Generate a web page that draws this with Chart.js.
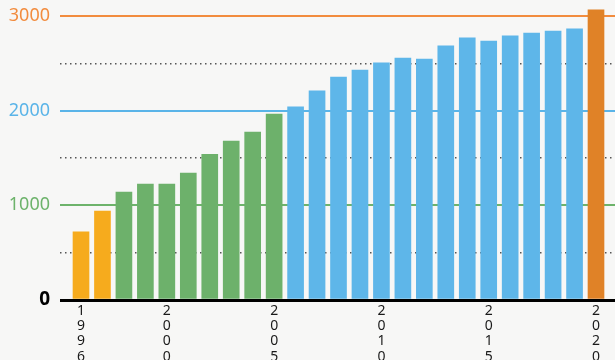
<!DOCTYPE html>
<html>
<head>
<meta charset="utf-8">
<script src="https://cdn.jsdelivr.net/npm/chart.js@4"></script>
<style>
  html, body { margin: 0; padding: 0; background: #f7f7f6; }
  #wrap { width: 615px; height: 360px; }
</style>
</head>
<body>
<div id="wrap"><canvas id="chart" width="615" height="360"></canvas></div>
<script>
// years and values
const years = [1996, 1997, 1998, 1999, 2000, 2001, 2002, 2003, 2004, 2005, 2006, 2007, 2008,
               2009, 2010, 2011, 2012, 2013, 2014, 2015, 2016, 2017, 2018, 2019, 2020];
const values = [720, 940, 1140, 1225, 1225, 1340, 1540, 1680, 1775, 1965, 2040, 2210, 2355,
                2430, 2505, 2555, 2545, 2685, 2770, 2735, 2790, 2820, 2840, 2865, 3065];
const xTickYears = [1996, 2000, 2005, 2010, 2015, 2020];
const yMainTicks = [0, 1000, 2000, 3000];
const yDotTicks = [500, 1500, 2500];

const ORANGE = '#e08227';
const YELLOW = '#f6ab1d';
const GREEN = '#6db16b';
const BLUE = '#5eb6e9';

function barColor(year) {
    if (year <= 1997) return YELLOW;
    if (year <= 2005) return GREEN;
    if (year <= 2019) return BLUE;
    return ORANGE;
}

const lineColors = { 0: '#000000', 1000: '#6db36b', 2000: '#5ab4e8', 3000: '#f28c3e' };

const ctx = document.getElementById('chart').getContext('2d');

new Chart(ctx, {
    type: 'bar',
    data: {
        datasets: [{
            data: years.map((y, i) => ({ x: y, y: values[i] })),
            backgroundColor: years.map(barColor),
            borderWidth: 0,
            barThickness: 16
        }]
    },
    options: {
        responsive: false,
        animation: false,
        layout: { padding: 0 },
        plugins: {
            legend: { display: false },
            tooltip: { enabled: false }
        },
        scales: {
            x: {
                type: 'linear',
                offset: false,
                min: 1995.021,
                max: 2020.885,
                grid: { display: false },
                border: { display: false },
                afterBuildTicks: (s) => { s.ticks = xTickYears.map(v => ({ value: v })); },
                afterFit: (s) => { s.height = 60; s.paddingLeft = 0; s.paddingRight = 0; },
                ticks: {
                    autoSkip: false,
                    maxRotation: 0,
                    padding: -5,
                    color: '#1a1a1a',
                    font: { family: 'Noto Sans', size: 14, lineHeight: 1.1 },
                    callback: (v) => String(v).split('')
                }
            },
            y: {
                min: 0,
                max: 3169,
                afterBuildTicks: (s) => { s.ticks = yMainTicks.map(v => ({ value: v })); },
                afterFit: (s) => { s.width = 60; s.paddingTop = 0; s.paddingBottom = 0; },
                border: { display: false },
                grid: {
                    drawTicks: false,
                    color: (c) => lineColors[c.tick.value] || '#888',
                    lineWidth: (c) => c.tick.value === 0 ? 3 : 2
                },
                ticks: {
                    padding: 10,
                    color: (c) => lineColors[c.tick.value] || '#000',
                    font: (c) => c.tick && c.tick.value === 0
                        ? { family: 'Noto Sans', size: 19, weight: 'bold' }
                        : { family: 'Noto Sans', size: 18 },
                    callback: (v) => String(v)
                }
            },
            yDots: {
                position: 'left',
                min: 0,
                max: 3169,
                afterBuildTicks: (s) => { s.ticks = yDotTicks.map(v => ({ value: v })); },
                afterFit: (s) => { s.width = 0; s.paddingTop = 0; s.paddingBottom = 0; },
                border: { display: false, dash: [1.5, 3.5] },
                grid: { drawTicks: false, color: '#555', lineWidth: 1.5 },
                ticks: { display: false }
            }
        }
    }
});
</script>
</body>
</html>
